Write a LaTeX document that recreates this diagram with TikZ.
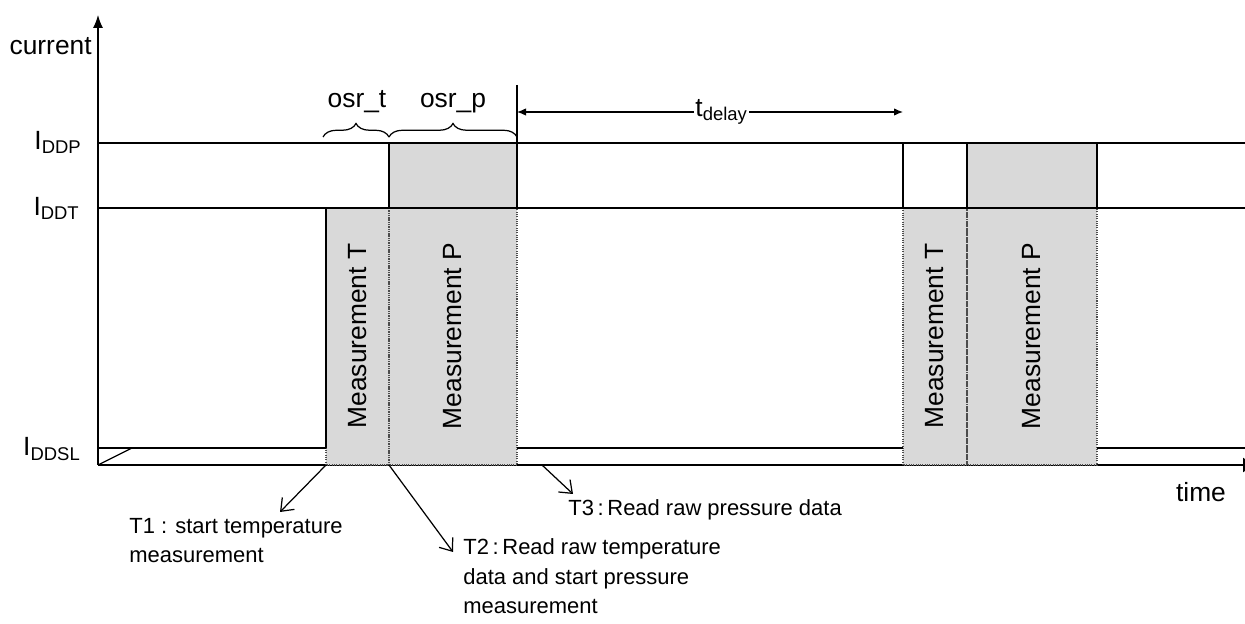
\documentclass[tikz,border=0pt]{standalone}
\usepackage{fontspec}
\setmainfont{Liberation Sans}
\usetikzlibrary{arrows.meta,decorations.pathreplacing}
\definecolor{measgray}{RGB}{217,217,217}
\tikzstyle{wire}=[line width=0.7pt]
\tikzstyle{dots}=[line width=0.6pt,draw=black!70,dash pattern=on 0.6pt off 0.7pt]
\tikzstyle{meas}=[fill=measgray,draw=none]
\tikzstyle{lbl}=[inner sep=0pt,font=\fontsize{15}{18}\selectfont]
\tikzstyle{mtext}=[lbl,rotate=90]
\tikzstyle{note}=[inner sep=0pt,align=left,font=\fontsize{12.5}{17}\selectfont]
\tikzstyle{pointer}=[line width=0.7pt,-{Straight Barb[length=2.2mm,width=3.4mm]}]

\begin{document}
\begin{tikzpicture}[x=0.02cm,y=-0.02cm]
            \clip (0,0) rectangle (1245,624);

            % axes

            \draw[wire,-{Latex[length=2.6mm,width=2mm]}] (98,465) -- (98,15);
            \draw[wire,-{Latex[length=2.6mm,width=3mm]}] (98,465) -- (1256,465);
            \node[lbl,anchor=base east] (cur) at (92,55) {current};
            \node[lbl,anchor=base] (time) at (1201,502) {time};

            % measurement blocks

            \fill[meas] (326,208) rectangle (389,465);
            \fill[meas] (389,143) rectangle (517,465);
            \fill[meas] (903,208) rectangle (967,465);
            \fill[meas] (967,143) rectangle (1097,465);
            \draw[dots] (326,208) rectangle (389,465);
            \draw[dots] (389,208) rectangle (517,465);
            \draw[dots] (903,208) rectangle (967,465);
            \draw[dots] (967,208) rectangle (1097,465);

            \node[mtext] (mt1) at (357.5,336) {Measurement T};
            \node[mtext] (mp1) at (453,336) {Measurement P};
            \node[mtext] (mt2) at (935,336) {Measurement T};
            \node[mtext] (mp2) at (1032,336) {Measurement P};

            % current levels

            \draw[wire] (98,143) -- (1245,143);
            \draw[wire] (98,208) -- (1245,208);
            \draw[wire] (98,448) -- (326,448);
            \draw[wire] (517,448) -- (903,448);
            \draw[wire] (1097,448) -- (1245,448);
            \draw[wire] (98,465) -- (132,448);
            \draw[wire] (326,208) -- (326,448);
            \foreach \x in {389,903,967,1097}
                \draw[wire] (\x,143) -- (\x,208);
            \draw[wire] (517,85) -- (517,208);

            \node[lbl,anchor=base east] (iddp) at (82,150) {I\textsubscript{DDP}};
            \node[lbl,anchor=base east] (iddt) at (80,216) {I\textsubscript{DDT}};
            \node[lbl,anchor=base east] (iddsl) at (81,456) {I\textsubscript{DDSL}};

            % oversampling and delay

            \draw[wire,decorate,decoration={brace,amplitude=0.27cm}] (323,137) -- (389,137);
            \draw[wire,decorate,decoration={brace,amplitude=0.27cm}] (389,137) -- (517,137);
            \node[lbl,anchor=base] (osrt) at (357,108) {osr\_t};
            \node[lbl,anchor=base] (osrp) at (453,108) {osr\_p};

            \coordinate (d0) at (517,112);
            \coordinate (d1) at (903,112);
            \draw[wire,{Latex[length=1.8mm,width=1.5mm]}-{Latex[length=1.8mm,width=1.5mm]}] (d0) --
                node[lbl,pos=0.53,fill=white,inner xsep=1pt] (tdel) {t\textsubscript{delay}} (d1);

            % T1 T2 T3 (base is the last line)

            \coordinate (t1) at (326,465);
            \coordinate (t1e) at (280,512);
            \coordinate (t2) at (389,465);
            \coordinate (t2e) at (453,552);
            \coordinate (t3) at (542,465);
            \coordinate (t3e) at (573,494);

            \node[note,anchor=base west] (n1) at (129,563) {T1 : start temperature\\measurement};
            \node[note,anchor=base west] (n2) at (463,614) {T2\,:\,Read raw temperature\\data and start pressure\\measurement};
            \node[note,anchor=base west] (n3) at (568,516) {T3\,:\,Read raw pressure data};

            \draw[pointer] (t1) -- (t1e);
            \draw[pointer] (t2) -- (t2e);
            \draw[pointer] (t3) -- (t3e);

\end{tikzpicture}
\end{document}
